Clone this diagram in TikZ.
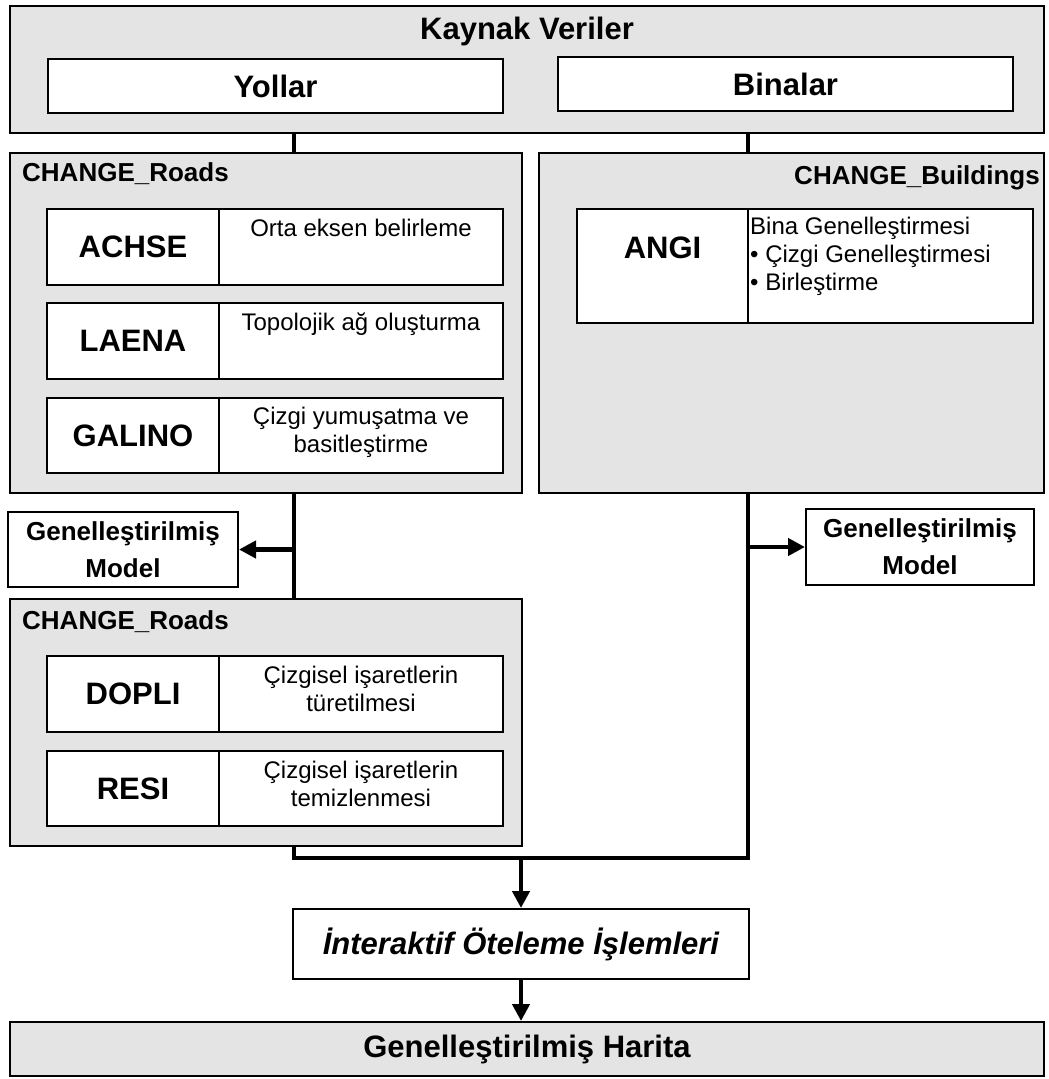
\documentclass[tikz,border=0pt]{standalone}
\usepackage{fontspec}
\setmainfont{Liberation Sans}
\usepackage{xcolor}
\usepackage{tikz}
\usetikzlibrary{arrows.meta,positioning}

\definecolor{panelgray}{RGB}{228,228,228}
\newcommand{\bigbf}{\fontsize{31}{36}\selectfont\bfseries}
\newcommand{\midbf}{\fontsize{26}{37}\selectfont\bfseries}
\newcommand{\desctxt}{\fontsize{24}{28}\selectfont}

\begin{document}
\begin{tikzpicture}[x=1pt, y=-1pt,
    panel/.style={draw, fill=panelgray, line width=2pt},
    cell/.style={draw, fill=white, line width=2pt},
    modcell/.style={cell, font=\bigbf},
    tag/.style={font=\midbf, inner sep=0pt},
    desc/.style={font=\desctxt, align=center, inner sep=0pt, anchor=north},
    link/.style={line width=4.5pt},
    arrow/.style={-{Triangle[length=17pt, width=17pt]}, line width=4.5pt}
]
    \useasboundingbox (0,0) rectangle (1049,1079);

    % Source data
    \node[panel, minimum width=1034pt, minimum height=127pt] (src) at (527,69.5) {};
    \node[font=\bigbf, inner sep=0pt] (srctitle) at (527,31) {Kaynak Veriler};
    \node[cell, font=\bigbf, minimum width=455pt, minimum height=54pt] (yollar) at (275.5,86) {Yollar};
    \node[cell, font=\bigbf, minimum width=455pt, minimum height=54pt] (binalar) at (785.5,84) {Binalar};

    % CHANGE_Roads (first pass)
    \node[panel, minimum width=512pt, minimum height=340pt] (roads1) at (266,323) {};
    \node[tag, anchor=west] (roads1lbl) at (22,174) {CHANGE\_Roads};
    \node[modcell, minimum width=172pt, minimum height=76pt] (achse) at (133,247) {ACHSE};
    \node[cell, minimum width=284pt, minimum height=76pt] (achsedesc) at (361,247) {};
    \node[desc] (achsetxt) at ([yshift=-11pt]achsedesc.north) {Orta eksen belirleme};
    \node[modcell, minimum width=172pt, minimum height=76pt] (laena) at (133,341) {LAENA};
    \node[cell, minimum width=284pt, minimum height=76pt] (laenadesc) at (361,341) {};
    \node[desc] (laenatxt) at ([yshift=-11pt]laenadesc.north) {Topolojik ağ oluşturma};
    \node[modcell, minimum width=172pt, minimum height=75pt] (galino) at (133,435.5) {GALINO};
    \node[cell, minimum width=284pt, minimum height=75pt] (galinodesc) at (361,435.5) {};
    \node[desc] (galinotxt) at ([yshift=-10pt]galinodesc.north) {Çizgi yumuşatma ve\\basitleştirme};

    % CHANGE_Buildings
    \node[panel, minimum width=505pt, minimum height=340pt] (bldg) at (791.5,323) {};
    \node[tag, anchor=east] (bldglbl) at (1040,178) {CHANGE\_Buildings};
    \node[cell, minimum width=171pt, minimum height=114pt] (angi) at (662.5,266) {};
    \node[font=\bigbf, inner sep=0pt] (angilbl) at (662.5,248) {ANGI};
    \node[cell, minimum width=285pt, minimum height=114pt] (angidesc) at (890.5,266) {};
    \node[font=\desctxt, align=left, inner sep=0pt, anchor=north west] (angitxt)
        at ([xshift=3pt, yshift=-9pt]angidesc.north west)
        {Bina Genelleştirmesi\\\textbullet{} Çizgi Genelleştirmesi\\\textbullet{} Birleştirme};

    % Generalised models
    \node[cell, font=\midbf, align=center, minimum width=230pt, minimum height=75pt] (gmleft) at (123,549.5) {Genelleştirilmiş\\Model};
    \node[cell, font=\midbf, align=center, minimum width=228pt, minimum height=76pt] (gmright) at (920,547) {Genelleştirilmiş\\Model};

    % CHANGE_Roads (second pass)
    \node[panel, minimum width=512pt, minimum height=247pt] (roads2) at (266,722.5) {};
    \node[tag, anchor=west] (roads2lbl) at (22,622) {CHANGE\_Roads};
    \node[modcell, minimum width=172pt, minimum height=76pt] (dopli) at (133,694) {DOPLI};
    \node[cell, minimum width=284pt, minimum height=76pt] (doplidesc) at (361,694) {};
    \node[desc] (doplitxt) at ([yshift=-11pt]doplidesc.north) {Çizgisel işaretlerin\\türetilmesi};
    \node[modcell, minimum width=172pt, minimum height=75pt] (resi) at (133,788.5) {RESI};
    \node[cell, minimum width=284pt, minimum height=75pt] (residesc) at (361,788.5) {};
    \node[desc] (resitxt) at ([yshift=-11pt]residesc.north) {Çizgisel işaretlerin\\temizlenmesi};

    % Interactive step and result
    \node[cell, font=\bigbf\itshape, minimum width=456pt, minimum height=70pt] (interakt) at (521,944) {İnteraktif Öteleme İşlemleri};
    \node[panel, font=\bigbf, minimum width=1034pt, minimum height=54pt] (harita) at (527,1049) {Genelleştirilmiş Harita};

    % Connectors
    \coordinate (lx) at (294,0);
    \coordinate (rx) at (748,0);
    \coordinate (merge) at (521,858);
    \draw[link] (src.south -| lx) -- (roads1.north -| lx);
    \draw[link] (src.south -| rx) -- (bldg.north -| rx);
    \draw[link] (roads1.south -| lx) -- (roads2.north -| lx);
    \draw[arrow] (gmleft.east -| lx) -- (gmleft.east);
    \draw[arrow] (gmright.west -| rx) -- (gmright.west);
    \draw[link] (roads2.south -| lx) |- (merge) -| (bldg.south -| rx);
    \draw[arrow] (merge) -- (interakt.north);
    \draw[arrow] (interakt.south) -- (interakt.south |- harita.north);
\end{tikzpicture}
\end{document}
